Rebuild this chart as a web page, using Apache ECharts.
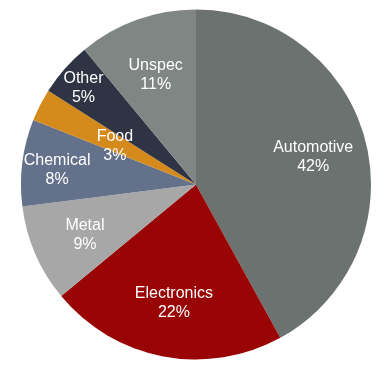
<!DOCTYPE html>
<html><head><meta charset="utf-8">
<script src="https://cdn.jsdelivr.net/npm/echarts@6/dist/echarts.min.js"></script>
<style>html,body{margin:0;padding:0;background:#fff}#c{width:391px;height:372px}</style>
</head><body><div id="c"></div>
<script>
var categories = ['Automotive', 'Electronics', 'Metal', 'Chemical', 'Food', 'Other', 'Unspec'];
var values = [42, 22, 9, 8, 3, 5, 11];
var colors = ['#6c726f', '#990505', '#a7a7a7', '#64718b', '#d58a1c', '#2f3444', '#7f8683'];
// label distance from centre (pixels) for each slice
var labelRadius = [118, 115, 118, 137, 88, 147, 116];

var R = 175;
var total = values.reduce(function(a,b){return a+b;},0);
var midAngles = [];
var acc = 0;
values.forEach(function(v){ midAngles.push((acc + v/2)/total*2*Math.PI); acc += v; });

var chart = echarts.init(document.getElementById('c'), null, {renderer:'canvas'});
chart.setOption({
  animation: false,
  series: [{
    type: 'pie',
    center: [196, 184.5],
    radius: [0, R],
    startAngle: 90,
    clockwise: true,
    avoidLabelOverlap: false,
    itemStyle: { borderWidth: 0 },
    label: {
      show: true,
      position: 'inside',
      color: '#ffffff',
      fontFamily: 'Liberation Sans, Arial, sans-serif',
      fontSize: 16,
      lineHeight: 19,
      formatter: function(p){ return p.name + '\n' + p.value + '%'; }
    },
    labelLine: { show: false },
    labelLayout: function(p){
      var i = p.dataIndex;
      var d = labelRadius[i] - R/2;
      return { dx: d*Math.sin(midAngles[i]), dy: -d*Math.cos(midAngles[i]) + 3 };
    },
    emphasis: { disabled: true },
    data: categories.map(function(c, i){ return { name: c, value: values[i], itemStyle: { color: colors[i] } }; })
  }]
});
</script></body></html>
